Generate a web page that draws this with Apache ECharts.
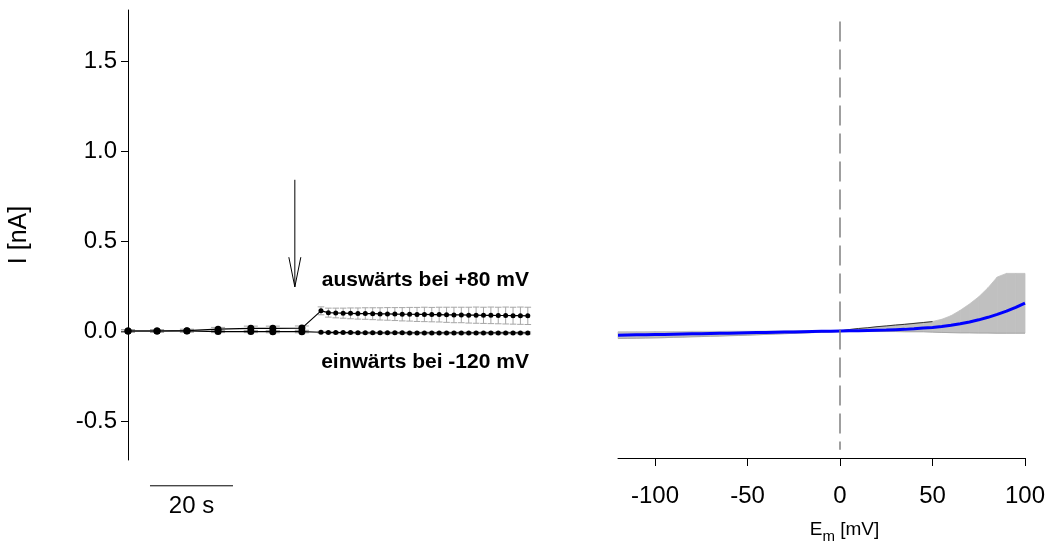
<!DOCTYPE html>
<html><head><meta charset="utf-8">
<script src="https://cdn.jsdelivr.net/npm/echarts@6/dist/echarts.min.js"></script>
<style>html,body{margin:0;padding:0;background:#fff}#c{width:1051px;height:553px}</style>
</head><body><div id="c"></div>
<script>
// ---- Left panel: time course (time in s, current in nA) ----
const preTimes = [0, 7.0, 14.2, 21.7, 29.6, 34.9, 41.9];
const postTimes = [46.5, 48.28, 50.06, 51.84, 53.62, 55.4, 57.18, 58.96, 60.74, 62.52, 64.3, 66.08, 67.86, 69.64, 71.42, 73.2, 74.98, 76.76, 78.54, 80.32, 82.1, 83.88, 85.66, 87.44, 89.22, 91.0, 92.78, 94.56, 96.34];
const outPre = [0.000, 0.000, 0.002, 0.010, 0.015, 0.015, 0.016];
const outPreErr = [0.008, 0.008, 0.008, 0.010, 0.012, 0.012, 0.012];
const inPre = [0.000, 0.000, 0.000, -0.003, -0.003, -0.004, -0.004];
const inPreErr = [0.006, 0.006, 0.006, 0.006, 0.006, 0.006, 0.006];
const outPost = [0.112, 0.102, 0.100, 0.099, 0.098, 0.097, 0.097, 0.096, 0.095, 0.095, 0.094, 0.093, 0.093, 0.092, 0.092, 0.091, 0.091, 0.090, 0.089, 0.089, 0.088, 0.088, 0.087, 0.087, 0.086, 0.086, 0.085, 0.085, 0.084];
const outPostErr = [0.022, 0.025, 0.027, 0.028, 0.030, 0.031, 0.032, 0.033, 0.034, 0.035, 0.036, 0.037, 0.038, 0.039, 0.040, 0.040, 0.041, 0.042, 0.043, 0.043, 0.044, 0.045, 0.045, 0.046, 0.046, 0.047, 0.047, 0.048, 0.048];
const inPost = [-0.007, -0.008, -0.009, -0.009, -0.009, -0.010, -0.010, -0.010, -0.010, -0.010, -0.010, -0.010, -0.011, -0.011, -0.011, -0.011, -0.011, -0.011, -0.011, -0.011, -0.011, -0.011, -0.011, -0.011, -0.011, -0.011, -0.011, -0.011, -0.011];
const inPostErr = [0.006, 0.006, 0.006, 0.006, 0.006, 0.006, 0.006, 0.006, 0.006, 0.006, 0.006, 0.006, 0.006, 0.006, 0.006, 0.006, 0.006, 0.006, 0.006, 0.006, 0.006, 0.006, 0.006, 0.006, 0.006, 0.006, 0.006, 0.006, 0.006];
const yTicks = [-0.5, 0.0, 0.5, 1.0, 1.5];
const labelOut = 'auswärts bei +80 mV';
const labelIn = 'einwärts bei -120 mV';
const scaleBarLabel = '20 s';
const scaleBarSeconds = 20;
const arrowTime = 40.2;

// ---- Right panel: I-V relation (membrane potential in mV, current in nA) ----
const voltages = [-120, -115, -110, -105, -100, -95, -90, -85, -80, -75, -70, -65, -60, -55, -50, -45, -40, -35, -30, -25, -20, -15, -10, -5, 0, 5, 10, 15, 20, 25, 30, 35, 40, 45, 50, 55, 60, 65, 70, 75, 80, 85, 90, 95, 100];
const ivMean = [-0.023, -0.022, -0.021, -0.021, -0.020, -0.019, -0.018, -0.017, -0.016, -0.015, -0.014, -0.013, -0.012, -0.011, -0.010, -0.009, -0.008, -0.007, -0.006, -0.005, -0.004, -0.003, -0.002, -0.001, 0.000, 0.001, 0.002, 0.003, 0.004, 0.005, 0.007, 0.009, 0.012, 0.016, 0.020, 0.025, 0.032, 0.040, 0.050, 0.062, 0.076, 0.092, 0.110, 0.131, 0.155];
const ivUpper = [-0.004, -0.004, -0.004, -0.004, -0.003, -0.003, -0.003, -0.003, -0.002, -0.002, -0.002, -0.002, -0.001, -0.001, -0.001, -0.001, 0.000, 0.000, 0.000, 0.001, 0.001, 0.001, 0.002, 0.002, 0.003, 0.008, 0.013, 0.018, 0.023, 0.028, 0.033, 0.038, 0.043, 0.048, 0.053, 0.065, 0.085, 0.115, 0.150, 0.190, 0.240, 0.300, 0.320, 0.320, 0.320];
const ivLower = [-0.042, -0.041, -0.040, -0.039, -0.038, -0.037, -0.035, -0.034, -0.032, -0.031, -0.029, -0.028, -0.026, -0.025, -0.023, -0.021, -0.019, -0.017, -0.015, -0.013, -0.011, -0.009, -0.007, -0.005, -0.003, -0.003, -0.003, -0.003, -0.003, -0.003, -0.003, -0.004, -0.004, -0.004, -0.006, -0.008, -0.009, -0.010, -0.010, -0.011, -0.011, -0.012, -0.012, -0.012, -0.012];
const traceV = [0, 5, 10, 15, 20, 25, 30, 35, 40, 45, 50];
const traceI = [0.000, 0.008, 0.014, 0.018, 0.024, 0.028, 0.033, 0.037, 0.042, 0.047, 0.052];
const xTicks = [-100, -50, 0, 50, 100];

// ---- build ----
const times = preTimes.concat(postTimes);
const outVals = outPre.concat(outPost), outErr = outPreErr.concat(outPostErr);
const inVals = inPre.concat(inPost), inErr = inPreErr.concat(inPostErr);
const nPre = preTimes.length;
const zip = (a, b) => a.map((v, i) => [v, b[i]]);
const zip3 = (a, b, c) => a.map((v, i) => [v, b[i], c[i]]);
const bandData = zip3(voltages, ivLower, ivUpper);

function errRender(params, api) {
  const x = api.value(0), y = api.value(1), e = api.value(2);
  const top = api.coord([x, y + e]), bot = api.coord([x, y - e]);
  const hw = params.dataIndex < nPre ? 7 : 3.3;
  const st = {stroke: '#a6a6a6', lineWidth: 1};
  return {type: 'group', children: [
    {type: 'line', shape: {x1: top[0], y1: top[1], x2: bot[0], y2: bot[1]}, style: st},
    {type: 'line', shape: {x1: top[0] - hw, y1: top[1], x2: top[0] + hw, y2: top[1]}, style: st},
    {type: 'line', shape: {x1: bot[0] - hw, y1: bot[1], x2: bot[0] + hw, y2: bot[1]}, style: st}
  ]};
}
function bandRender(params, api) {
  const i = params.dataIndex;
  if (i >= bandData.length - 1) return null;
  const a = bandData[i], b = bandData[i + 1];
  const pts = [api.coord([a[0], a[1]]), api.coord([b[0], b[1]]), api.coord([b[0], b[2]]), api.coord([a[0], a[2]])];
  return {type: 'polygon', shape: {points: pts}, style: {fill: '#c0c0c0', stroke: '#c0c0c0', lineWidth: 0.8}};
}

const FONT = 'Liberation Sans, Arial, sans-serif';
const chart = echarts.init(document.getElementById('c'), null, {renderer: 'canvas'});
const yMin = -0.7167, yMax = 1.7833;
const symSize = (v, p) => (p.dataIndex < nPre ? 7 : 5);

chart.setOption({
  animation: false,
  backgroundColor: '#fff',
  textStyle: {fontFamily: FONT},
  grid: [
    {left: 128, top: 10, width: 415, height: 450},
    {left: 618, top: 10, width: 407, height: 448}
  ],
  xAxis: [
    {gridIndex: 0, type: 'value', min: 0, max: 100, show: false},
    {gridIndex: 1, type: 'value', min: -120, max: 100,
     axisLine: {onZero: false, lineStyle: {color: '#000', width: 1}},
     axisTick: {customValues: xTicks, length: 8, lineStyle: {color: '#000', width: 1}},
     axisLabel: {customValues: xTicks, fontSize: 24, color: '#000', margin: 26, fontFamily: FONT},
     splitLine: {show: false},
     name: 'E{sub|m} [mV]', nameLocation: 'middle', nameGap: 58,
     nameTextStyle: {fontSize: 19, color: '#000', fontFamily: FONT, padding: [0, 0, 0, 46],
       rich: {sub: {fontSize: 15, color: '#000', fontFamily: FONT, padding: [13, 0, 0, 0]}}}}
  ],
  yAxis: [
    {gridIndex: 0, type: 'value', min: yMin, max: yMax,
     axisLine: {show: true, onZero: false, lineStyle: {color: '#000', width: 1}},
     axisTick: {show: true, customValues: yTicks, length: 7, lineStyle: {color: '#000', width: 1}},
     axisLabel: {customValues: yTicks, formatter: v => v.toFixed(1), fontSize: 24, color: '#000', margin: 11, fontFamily: FONT},
     splitLine: {show: false},
     name: 'I [nA]', nameLocation: 'middle', nameGap: 96, nameRotate: 90,
     nameTextStyle: {fontSize: 25, color: '#000', fontFamily: FONT}},
    {gridIndex: 1, type: 'value', min: -0.7056, max: 1.7833, show: false}
  ],
  series: [
    {type: 'custom', xAxisIndex: 0, yAxisIndex: 0, renderItem: errRender, data: zip3(times, outVals, outErr), encode: {x: 0, y: 1}, silent: true, z: 1},
    {type: 'custom', xAxisIndex: 0, yAxisIndex: 0, renderItem: errRender, data: zip3(times, inVals, inErr), encode: {x: 0, y: 1}, silent: true, z: 1},
    {type: 'line', name: labelOut, xAxisIndex: 0, yAxisIndex: 0, data: zip(times, outVals),
     symbol: 'circle', symbolSize: symSize, itemStyle: {color: '#000'}, lineStyle: {color: '#000', width: 1.2}, z: 3},
    {type: 'line', name: labelIn, xAxisIndex: 0, yAxisIndex: 0, data: zip(times, inVals),
     symbol: 'circle', symbolSize: symSize, itemStyle: {color: '#000'}, lineStyle: {color: '#000', width: 1.2}, z: 3},
    {type: 'custom', xAxisIndex: 1, yAxisIndex: 1, renderItem: bandRender, data: bandData, encode: {x: 0, y: [1, 2]}, silent: true, z: 1},
    {type: 'line', xAxisIndex: 1, yAxisIndex: 1, data: zip(voltages, ivLower), symbol: 'none',
     lineStyle: {color: '#a8a8a8', width: 1}, silent: true, z: 2},
    {type: 'line', xAxisIndex: 1, yAxisIndex: 1, data: zip(traceV, traceI), symbol: 'none',
     lineStyle: {color: '#333', width: 1}, silent: true, z: 2},
    {type: 'line', xAxisIndex: 1, yAxisIndex: 1, data: zip(voltages, ivMean), symbol: 'none',
     lineStyle: {color: '#0000ff', width: 3}, silent: true, z: 4,
     markLine: {silent: true, symbol: 'none', label: {show: false},
       lineStyle: {color: '#808080', width: 1.5, type: [20, 8]},
       data: [[{coord: [0, 1.72]}, {coord: [0, -0.66]}]]}}
  ]
});

// annotations placed in data coordinates of the left panel
const P = (x, y) => chart.convertToPixel({xAxisIndex: 0, yAxisIndex: 0}, [x, y]);
const a0 = P(arrowTime, 0.84), a1 = P(arrowTime, 0.245), ah = P(arrowTime, 0.41);
const sb0 = P(5.3, -0.86), sb1 = P(5.3 + scaleBarSeconds, -0.86), sbt = P(5.3 + scaleBarSeconds / 2, -0.975);
const tOut = P(96.6, 0.28), tIn = P(96.6, -0.172);
chart.setOption({
  graphic: [
    {type: 'line', shape: {x1: a0[0], y1: a0[1], x2: a1[0], y2: a1[1]}, style: {stroke: '#000', lineWidth: 1}, silent: true},
    {type: 'polyline', shape: {points: [[ah[0] - 6, ah[1]], [a1[0], a1[1]], [ah[0] + 6, ah[1]]]}, style: {stroke: '#000', lineWidth: 1, fill: null}, silent: true},
    {type: 'line', shape: {x1: sb0[0], y1: sb0[1], x2: sb1[0], y2: sb1[1]}, style: {stroke: '#000', lineWidth: 1}, silent: true},
    {type: 'text', x: sbt[0], y: sbt[1], style: {text: scaleBarLabel, font: '24px ' + FONT, fill: '#000', align: 'center', verticalAlign: 'middle'}, silent: true},
    {type: 'text', x: tOut[0], y: tOut[1], style: {text: labelOut, font: 'bold 21px ' + FONT, fill: '#000', align: 'right', verticalAlign: 'middle'}, silent: true},
    {type: 'text', x: tIn[0], y: tIn[1], style: {text: labelIn, font: 'bold 21px ' + FONT, fill: '#000', align: 'right', verticalAlign: 'middle'}, silent: true}
  ]
});
</script>
</body></html>
